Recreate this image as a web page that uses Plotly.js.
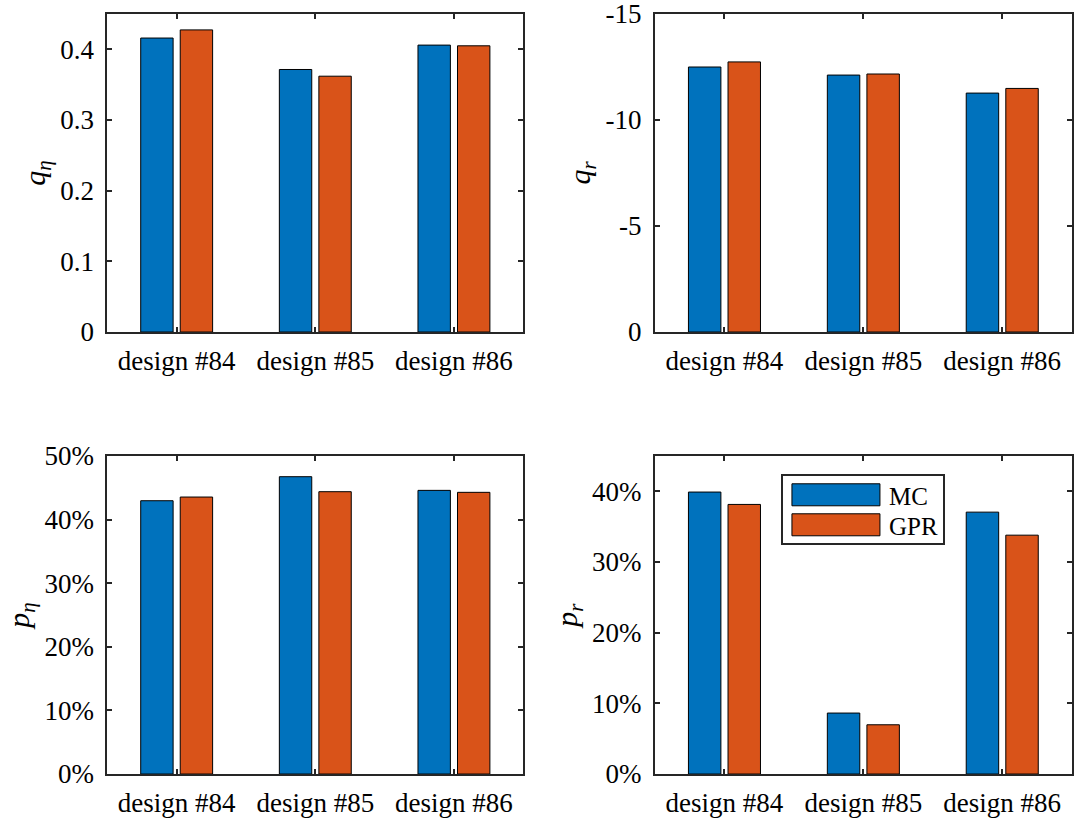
<!DOCTYPE html>
<html><head><meta charset="utf-8">
<script src="https://cdn.plot.ly/plotly-3.0.1.min.js"></script>
<style>html,body{margin:0;padding:0;background:#fff}</style>
</head><body><div id="chart" style="width:1080px;height:819px"></div>
<script>
const designs = ['design #84', 'design #85', 'design #86'];
const seriesNames = ['MC', 'GPR'];
const qEtaMC  = [0.416, 0.3715, 0.406];
const qEtaGPR = [0.4275, 0.362, 0.405];
const qRMC    = [-12.5, -12.12, -11.27];
const qRGPR   = [-12.74, -12.17, -11.49];
const pEtaMC  = [42.97, 46.75, 44.6];
const pEtaGPR = [43.55, 44.39, 44.29];
const pRMC    = [39.9, 8.63, 37.06];
const pRGPR   = [38.15, 6.97, 33.8];
const qEtaTickVals = [0, 0.1, 0.2, 0.3, 0.4];
const qEtaTickText = ['0', '0.1', '0.2', '0.3', '0.4'];
const qRTickVals = [0, -5, -10, -15];
const qRTickText = ['0', '-5', '-10', '-15'];
const pEtaTickVals = [0, 10, 20, 30, 40, 50];
const pEtaTickText = ['0%', '10%', '20%', '30%', '40%', '50%'];
const pRTickVals = [0, 10, 20, 30, 40];
const pRTickText = ['0%', '10%', '20%', '30%', '40%'];

const FONT = '"Liberation Serif", "Times New Roman", Times, "DejaVu Serif", serif';
const COLORS = ['#0072BD', '#D95319'];
const AX = '#262626';

const panels = [
  {mc: qEtaMC, gpr: qEtaGPR, x: 'x', y: 'y'},
  {mc: qRMC, gpr: qRGPR, x: 'x2', y: 'y2'},
  {mc: pEtaMC, gpr: pEtaGPR, x: 'x3', y: 'y3'},
  {mc: pRMC, gpr: pRGPR, x: 'x4', y: 'y4'}
];
const traces = [];
panels.forEach((p, i) => {
  [p.mc, p.gpr].forEach((vals, k) => {
    traces.push({
      type: 'bar', x: designs, y: vals, name: seriesNames[k],
      xaxis: p.x, yaxis: p.y,
      marker: {color: COLORS[k], line: {color: '#000', width: 1}},
      showlegend: i === 3, legendgroup: seriesNames[k],
      hoverinfo: 'skip'
    });
  });
});

function xa(domain, anchor) {
  return {domain: domain, anchor: anchor, type: 'category', range: [-0.5, 2.5],
    showline: true, linecolor: AX, linewidth: 2, mirror: 'ticks',
    ticks: 'inside', ticklen: 5, tickwidth: 2, tickcolor: AX,
    tickfont: {family: FONT, size: 27, color: '#000'},
    ticklabelstandoff: 4,
    showgrid: false, zeroline: false, fixedrange: true, automargin: false};
}
function ya(domain, anchor, range, tv, tt, title) {
  return {domain: domain, anchor: anchor, range: range,
    tickmode: 'array', tickvals: tv, ticktext: tt,
    showline: true, linecolor: AX, linewidth: 2, mirror: 'ticks',
    ticks: 'inside', ticklen: 5, tickwidth: 2, tickcolor: AX,
    tickfont: {family: FONT, size: 27, color: '#000'},
    ticklabelstandoff: 6, ticklabeloverflow: 'allow',
    title: {text: title, font: {family: FONT, size: 30, color: '#000'}, standoff: 6},
    showgrid: false, zeroline: false, fixedrange: true, automargin: false};
}

const XL = [0.0994, 0.4845], XR = [0.6065, 0.9923];
const YT = [0.5946, 0.9829], YB = [0.0549, 0.4432];

const layout = {
  width: 1080, height: 819,
  margin: {l: 0, r: 0, t: 0, b: 0},
  paper_bgcolor: '#fff', plot_bgcolor: '#fff',
  barmode: 'group', bargap: 0.43, bargroupgap: 0.18,
  font: {family: FONT, color: '#000'},
  xaxis: xa(XL, 'y'),
  yaxis: ya(YT, 'x', [0, 0.45], qEtaTickVals, qEtaTickText, '<i>q</i><sub><i>η</i></sub>'),
  xaxis2: xa(XR, 'y2'),
  yaxis2: ya(YT, 'x2', [0, -15], qRTickVals, qRTickText, '<i>q</i><sub><i>r</i></sub>'),
  xaxis3: xa(XL, 'y3'),
  yaxis3: ya(YB, 'x3', [0, 50], pEtaTickVals, pEtaTickText, '<i>p</i><sub><i>η</i></sub>'),
  xaxis4: xa(XR, 'y4'),
  yaxis4: ya(YB, 'x4', [0, 45], pRTickVals, pRTickText, '<i>p</i><sub><i>r</i></sub>'),
  showlegend: true,
  legend: {x: 0.7231, y: 0.4212, xanchor: 'left', yanchor: 'top',
    bgcolor: '#fff', bordercolor: AX, borderwidth: 2,
    font: {family: FONT, size: 25, color: '#000'},
    itemwidth: 96, tracegroupgap: 0, traceorder: 'normal'}
};

let legendFixed = false;
function fixLegend() {
  document.querySelectorAll('.legend .legendpoints path').forEach(function (p) {
    p.setAttribute('d', 'M44,11H-44V-11H44Z');
  });
  if (legendFixed) return;
  const items = document.querySelectorAll('.legend g.traces');
  if (!items.length) return;
  let y0 = null;
  items.forEach(function (g, i) {
    const m = /translate\(\s*([-\d.e]+)[ ,]+([-\d.e]+)\s*\)/.exec(g.getAttribute('transform') || '');
    if (!m) return;
    if (y0 === null) y0 = parseFloat(m[2]);
    g.setAttribute('transform', 'translate(' + m[1] + ',' + (y0 - 4 + i * 30) + ')');
  });
  const bg = document.querySelector('.legend rect.bg');
  if (bg) {
    const h = parseFloat(bg.getAttribute('height'));
    if (!isNaN(h)) bg.setAttribute('height', h - 14);
  }
  legendFixed = true;
}
Plotly.newPlot('chart', traces, layout, {staticPlot: true, displayModeBar: false}).then(function () {
  fixLegend();
  setTimeout(fixLegend, 50);
});
</script>
</body></html>
